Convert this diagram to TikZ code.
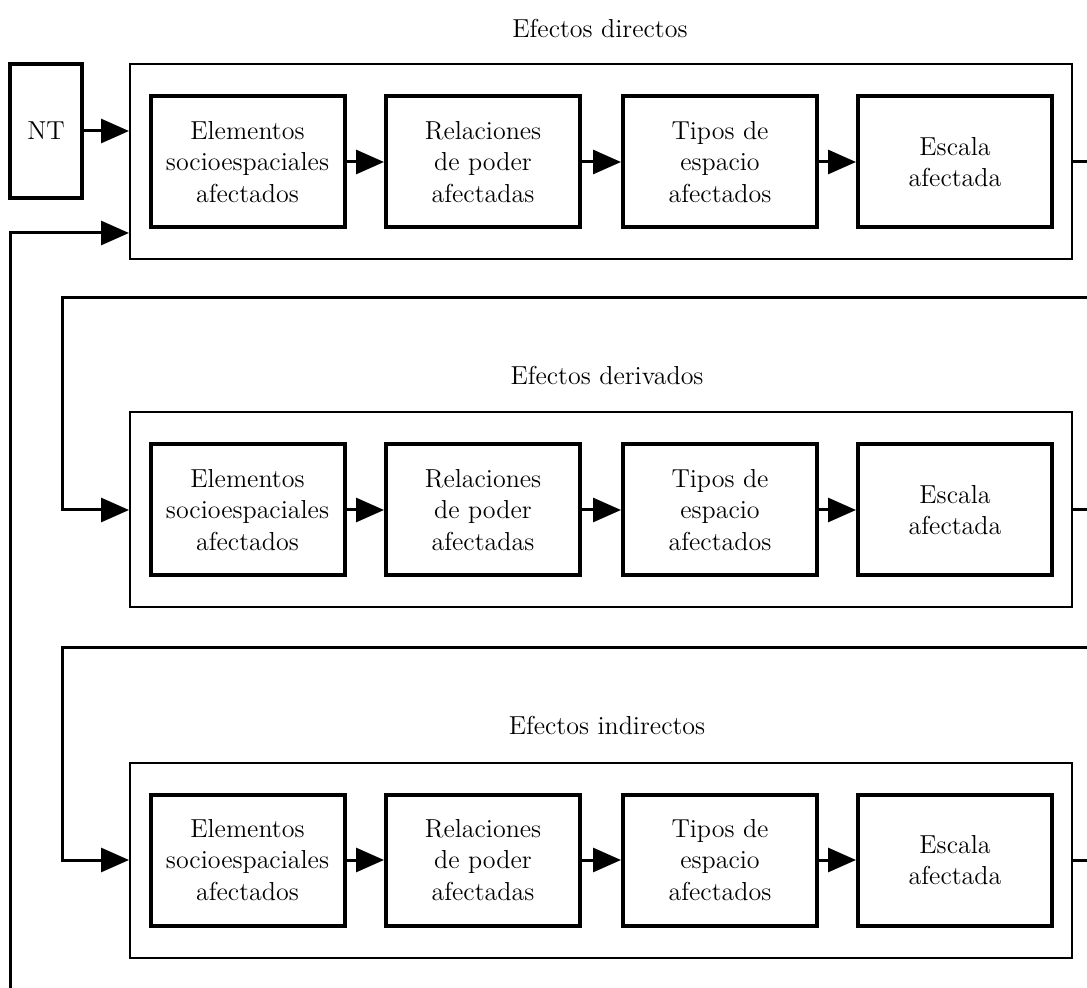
\documentclass[tikz,border=0pt]{standalone}
\usetikzlibrary{arrows.meta,calc}
\begin{document}
\begin{tikzpicture}[x=0.5pt,y=-0.5pt,
  txt/.style={font=\fontsize{13}{15.8}\selectfont},
  innerbox/.style={draw,line width=2pt,minimum width=97pt,minimum height=65.5pt,align=center,inner sep=0pt,txt},
  outerbox/.style={draw,line width=1pt,minimum width=471pt,minimum height=97.5pt,inner sep=0pt},
  conn/.style={line width=1.5pt,-{Triangle[length=14pt,width=12pt]}},
  plainline/.style={line width=1.5pt},
  titletext/.style={txt}]
\useasboundingbox (0,0) rectangle (1087,988);

\node[titletext] (t1) at (600,28) {Efectos directos};
\node[titletext] (t2) at (607,375) {Efectos derivados};
\node[titletext] (t3) at (607,725) {Efectos indirectos};

\foreach \r/\y in {1/162,2/510,3/860}{
  \node[outerbox] (o\r) at (601,\y) {};
  \node[innerbox] (a\r) at (247.5,\y) {Elementos\\socioespaciales\\afectados};
  \node[innerbox] (b\r) at (483,\y) {Relaciones\\de poder\\afectadas};
  \node[innerbox] (c\r) at (720,\y) {Tipos de\\espacio\\afectados};
  \node[innerbox] (d\r) at (955,\y) {Escala\\afectada};
  \draw[conn] (a\r.east) -- (b\r.west);
  \draw[conn] (b\r.east) -- (c\r.west);
  \draw[conn] (c\r.east) -- (d\r.west);
  \coordinate (e\r) at (1087,\y);
  \draw[plainline] (o\r.east) -- (e\r);
}

\node[draw,line width=2pt,minimum width=36pt,minimum height=67pt,inner sep=0pt,txt] (nt) at (46,131) {NT};
\draw[conn] (nt.east) -- (nt.east -| o1.west);

\coordinate (fb) at (10,988);
\draw[conn] (fb) |- ($(o1.west)+(0,71)$);

\coordinate (r1) at (1087,298);
\coordinate (k1) at (62,298);
\draw[conn] (r1) -- (k1) |- (o2.west);

\coordinate (r2) at (1087,648);
\coordinate (k2) at (62,648);
\draw[conn] (r2) -- (k2) |- (o3.west);
\end{tikzpicture}
\end{document}
